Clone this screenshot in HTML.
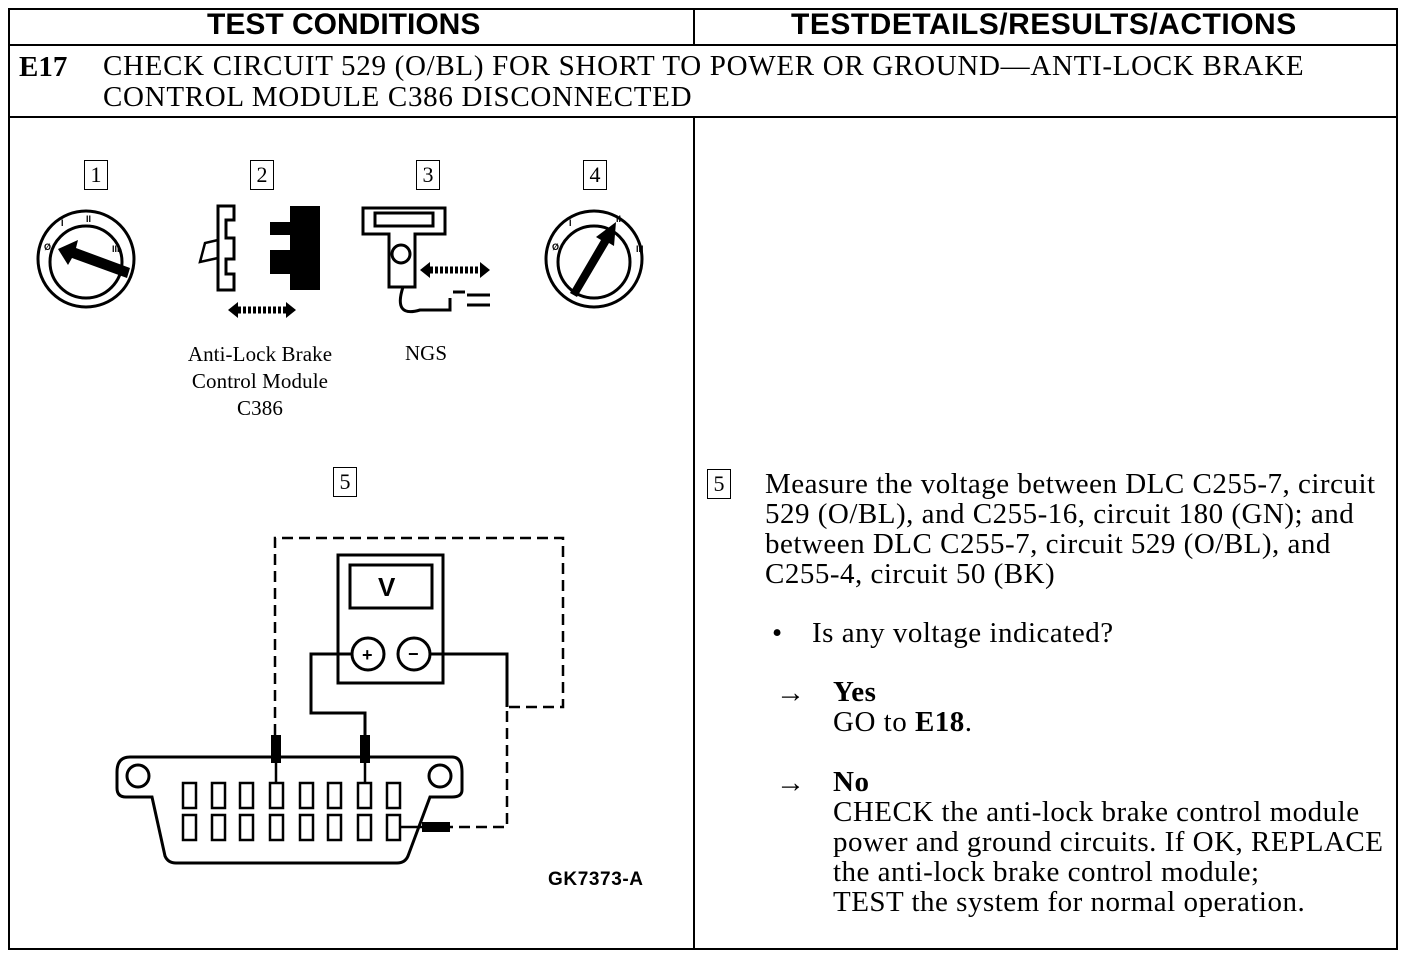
<!DOCTYPE html>
<html><head><style>
body{margin:0;width:1408px;height:958px;background:#fff;position:relative;overflow:hidden;font-family:"Liberation Serif",serif;color:#000}
.a{position:absolute;white-space:nowrap}
.h{font-family:"Liberation Sans",sans-serif;font-weight:bold;font-size:30px}
.s{font-size:29px;letter-spacing:0.5px}
.box{position:absolute;border:1.5px solid #000;width:22px;height:28px;font-size:22px;text-align:center;line-height:28px}
</style></head><body>
<svg width="1408" height="958" style="position:absolute;left:0;top:0">
<g fill="none" stroke="#000" stroke-width="2">
<rect x="9" y="9" width="1388" height="940"/>
<line x1="9" y1="45" x2="1397" y2="45"/>
<line x1="9" y1="117" x2="1397" y2="117"/>
<line x1="694" y1="9" x2="694" y2="45"/>
<line x1="694" y1="117" x2="694" y2="949"/>
</g>
<g fill="none" stroke="#000" stroke-width="3">
<circle cx="86" cy="259" r="48"/><circle cx="86" cy="262" r="36"/>
<circle cx="594" cy="259" r="48"/><circle cx="594" cy="262" r="36"/>
</g>
<polygon points="130,268 127,278 72,258 68,265 58,249 78,240 76,248" fill="#000"/>
<polygon points="577,297 570,293 601,240 596,237 616,222 614,246 609,243" fill="#000"/>
<g font-family="Liberation Sans" font-size="9" font-weight="bold">
<text x="44" y="250">Ø</text><text x="61" y="226">I</text><text x="86" y="222">II</text><text x="112" y="252">III</text>
<text x="552" y="250">Ø</text><text x="569" y="226">I</text><text x="616" y="222">II</text><text x="636" y="252">III</text>
</g>
<path d="M218,206 H234 V220 H226 V238 H234 V259 H226 V274 H234 V290 H218 Z" fill="none" stroke="#000" stroke-width="3"/>
<path d="M218,240 L205,243 L200,262 L218,258" fill="none" stroke="#000" stroke-width="2.5"/>
<path d="M290,206 H320 V290 H290 V274 H270 V250 H290 V235 H270 V222 H290 Z" fill="#000"/>
<path d="M228,310 L238,302 V318 Z M296,310 L286,302 V318 Z" fill="#000"/>
<g stroke="#000" stroke-width="7" stroke-dasharray="3,2"><line x1="238" y1="310" x2="286" y2="310"/></g>
<path d="M363,208 H445 V234 H415 V287 H389 V234 H363 Z" fill="none" stroke="#000" stroke-width="3"/>
<rect x="375" y="213" width="58" height="13" fill="none" stroke="#000" stroke-width="3"/>
<circle cx="401" cy="254" r="9" fill="none" stroke="#000" stroke-width="3"/>
<path d="M403,287 Q393,318 420,310 H450 V298" fill="none" stroke="#000" stroke-width="3"/>
<path d="M453,292 H465 M467,295 H490 M467,305 H490" stroke="#000" stroke-width="3"/>
<path d="M420,270 L430,262 V278 Z M490,270 L480,262 V278 Z" fill="#000"/>
<g stroke="#000" stroke-width="7" stroke-dasharray="3,2"><line x1="430" y1="270" x2="480" y2="270"/></g>
<g fill="none" stroke="#000" stroke-width="2.5" stroke-dasharray="11,6">
<path d="M275,735 V538 H563 V707 H507 V827 H450"/>
</g>
<g fill="none" stroke="#000" stroke-width="3">
<rect x="338" y="555" width="105" height="128"/>
<rect x="350" y="565" width="82" height="43"/>
<circle cx="368" cy="654" r="16"/><circle cx="414" cy="654" r="16"/>
<path d="M352,654 H311 V713 H365 V740"/>
<path d="M430,654 H507 V707"/>
<path d="M117,772 Q117,757 130,757 H452 Q462,757 462,772 V790 Q462,797 452,797 H430 L408,856 Q405,863 397,863 H176 Q168,863 165,856 L152,797 H126 Q117,797 117,788 Z"/>
<circle cx="138" cy="776" r="11"/><circle cx="440" cy="776" r="11"/>
</g>
<g fill="none" stroke="#000" stroke-width="2.5">
<rect x="183" y="783" width="13" height="25"/><rect x="212" y="783" width="13" height="25"/><rect x="240" y="783" width="13" height="25"/><rect x="270" y="783" width="13" height="25"/><rect x="300" y="783" width="13" height="25"/><rect x="328" y="783" width="13" height="25"/><rect x="358" y="783" width="13" height="25"/><rect x="387" y="783" width="13" height="25"/>
<rect x="183" y="815" width="13" height="25"/><rect x="212" y="815" width="13" height="25"/><rect x="240" y="815" width="13" height="25"/><rect x="270" y="815" width="13" height="25"/><rect x="300" y="815" width="13" height="25"/><rect x="328" y="815" width="13" height="25"/><rect x="358" y="815" width="13" height="25"/><rect x="387" y="815" width="13" height="25"/>
<line x1="276" y1="760" x2="276" y2="783"/><line x1="365" y1="760" x2="365" y2="783"/>
<line x1="400" y1="827" x2="425" y2="827"/>
</g>
<rect x="271" y="735" width="10" height="28" fill="#000"/>
<rect x="360" y="735" width="10" height="28" fill="#000"/>
<rect x="422" y="822" width="28" height="10" fill="#000"/>
<text x="548" y="885" font-family="Liberation Sans" font-weight="bold" font-size="19" letter-spacing="0.6">GK7373-A</text>
<text x="378" y="596" font-family="Liberation Sans" font-weight="bold" font-size="26">V</text>
<text x="362" y="661" font-family="Liberation Sans" font-weight="bold" font-size="18">+</text>
<text x="408" y="660" font-family="Liberation Sans" font-weight="bold" font-size="18">−</text>
</svg>
<div class="a h" style="left:207px;top:8px">TEST CONDITIONS</div>
<div class="a h" style="left:791px;top:8px;letter-spacing:0.5px">TESTDETAILS/RESULTS/ACTIONS</div>
<div class="a s" style="left:19px;top:51px;font-weight:bold;letter-spacing:0">E17</div>
<div class="a s" style="left:103px;top:51px;line-height:31px;letter-spacing:0.7px">CHECK CIRCUIT 529 (O/BL) FOR SHORT TO POWER OR GROUND—ANTI-LOCK BRAKE<br>CONTROL MODULE C386 DISCONNECTED</div>
<div class="box" style="left:84px;top:160px">1</div>
<div class="box" style="left:250px;top:160px">2</div>
<div class="box" style="left:416px;top:160px">3</div>
<div class="box" style="left:583px;top:160px">4</div>
<div class="box" style="left:333px;top:467px">5</div>
<div class="a" style="left:160px;top:341px;width:200px;text-align:center;font-size:21px;letter-spacing:0.1px;line-height:27px">Anti-Lock Brake<br>Control Module<br>C386</div>
<div class="a" style="left:405px;top:341px;font-size:21px">NGS</div>
<div class="box" style="left:707px;top:469px">5</div>
<div class="a s" style="left:765px;top:469px;line-height:30px">Measure the voltage between DLC C255-7, circuit<br>529 (O/BL), and C255-16, circuit 180 (GN); and<br>between DLC C255-7, circuit 529 (O/BL), and<br>C255-4, circuit 50 (BK)</div>
<div class="a s" style="left:772px;top:617px">•</div>
<div class="a s" style="left:812px;top:617px">Is any voltage indicated?</div>
<div class="a s" style="left:776px;top:677px">→</div>
<div class="a s" style="left:833px;top:677px;line-height:30px"><b>Yes</b><br>GO to <b>E18</b>.</div>
<div class="a s" style="left:776px;top:767px">→</div>
<div class="a s" style="left:833px;top:767px;line-height:30px"><b>No</b><br>CHECK the anti-lock brake control module<br>power and ground circuits. If OK, REPLACE<br>the anti-lock brake control module;<br>TEST the system for normal operation.</div>
</body></html>
